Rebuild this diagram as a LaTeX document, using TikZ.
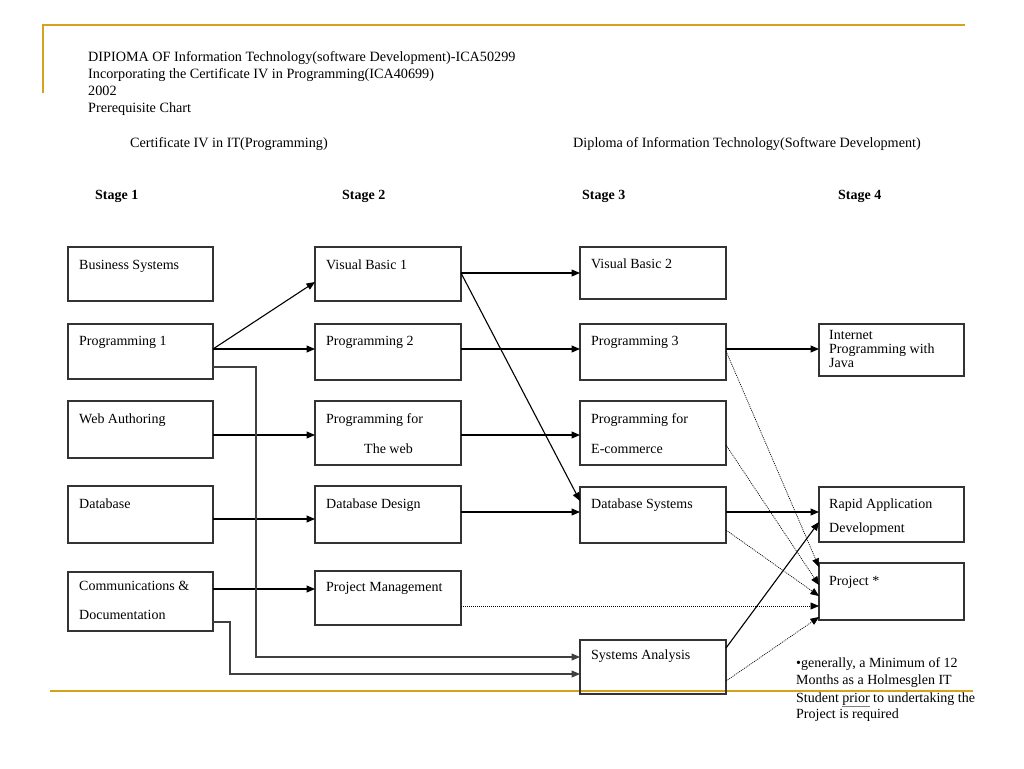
\documentclass[tikz,border=0pt]{standalone}
\usepackage{fontspec}
\setmainfont{Liberation Serif}
\usetikzlibrary{arrows.meta}
\definecolor{gold}{RGB}{214,162,30}
\begin{document}
\begin{tikzpicture}[x=1pt,y=-1pt,
  box/.style={draw=black!80,line width=1.1pt,anchor=north west,inner sep=0,outer sep=0},
  txt/.style={anchor=base west,inner sep=0,font=\fontsize{14}{17}\selectfont},
  headtxt/.style={txt,font=\fontsize{14.2}{17}\selectfont},
  stagetxt/.style={txt,font=\fontsize{14}{17}\selectfont\bfseries},
  arr/.style={line width=1.1pt,-{Triangle[length=8.5pt,width=7pt]}},
  route/.style={arr,draw=black!75},
  dots/.style={line width=0.7pt,dash pattern=on 1pt off 1pt,-{Triangle[length=8.5pt,width=7pt]}},
  goldline/.style={draw=gold,line width=2pt}]
\useasboundingbox (0,0) rectangle (1024,768);

\draw[goldline] (42,25) -- (965,25);
\draw[goldline] (43,25) -- (43,93);
\draw[goldline] (50,691) -- (973,691);

\node[headtxt] (h1) at (88,61) {DIPIOMA OF Information Technology(software Development)-ICA50299};
\node[headtxt] (h2) at (88,78) {Incorporating the Certificate IV in Programming(ICA40699)};
\node[headtxt] (h3) at (88,95) {2002};
\node[headtxt] (h4) at (88,112) {Prerequisite Chart};

\node[headtxt] (cert) at (130,147) {Certificate IV in IT(Programming)};
\node[headtxt] (dipl) at (573,147) {Diploma of Information Technology(Software Development)};

\node[stagetxt] (s1) at (95,199) {Stage 1};
\node[stagetxt] (s2) at (342,199) {Stage 2};
\node[stagetxt] (s3) at (582,199) {Stage 3};
\node[stagetxt] (s4) at (838,199) {Stage 4};

\node[box,minimum width=145,minimum height=54] (bus) at (68,247) {};
\node[box,minimum width=145,minimum height=55] (p1) at (68,324) {};
\node[box,minimum width=145,minimum height=57] (web) at (68,401) {};
\node[box,minimum width=145,minimum height=57] (db) at (68,486) {};
\node[box,minimum width=145,minimum height=59] (com) at (68,572) {};

\node[box,minimum width=146,minimum height=54] (vb1) at (315,247) {};
\node[box,minimum width=146,minimum height=56] (p2) at (315,324) {};
\node[box,minimum width=146,minimum height=64] (pweb) at (315,401) {};
\node[box,minimum width=146,minimum height=57] (dbd) at (315,486) {};
\node[box,minimum width=146,minimum height=54] (pm) at (315,571) {};

\node[box,minimum width=146,minimum height=52] (vb2) at (580,247) {};
\node[box,minimum width=146,minimum height=56] (p3) at (580,324) {};
\node[box,minimum width=146,minimum height=64] (ecom) at (580,401) {};
\node[box,minimum width=146,minimum height=56] (dbs) at (580,487) {};
\node[box,minimum width=146,minimum height=54] (sa) at (580,640) {};

\node[box,minimum width=145,minimum height=52] (java) at (819,324) {};
\node[box,minimum width=145,minimum height=55] (rad) at (819,487) {};
\node[box,minimum width=145,minimum height=57] (prj) at (819,563) {};

\node[txt] (t-bus) at (79,269) {Business Systems};
\node[txt] (t-p1) at (79,345) {Programming 1};
\node[txt] (t-web) at (79,423) {Web Authoring};
\node[txt] (t-db) at (79,508) {Database};
\node[txt] (t-com1) at (79,590) {Communications \&};
\node[txt] (t-com2) at (79,619) {Documentation};

\node[txt] (t-vb1) at (326,269) {Visual Basic 1};
\node[txt] (t-p2) at (326,345) {Programming 2};
\node[txt] (t-pweb1) at (326,423) {Programming for};
\node[txt] (t-pweb2) at (364,453) {The web};
\node[txt] (t-dbd) at (326,508) {Database Design};
\node[txt] (t-pm) at (326,591) {Project Management};

\node[txt] (t-vb2) at (591,268) {Visual Basic 2};
\node[txt] (t-p3) at (591,345) {Programming 3};
\node[txt] (t-ecom1) at (591,423) {Programming for};
\node[txt] (t-ecom2) at (591,453) {E-commerce};
\node[txt] (t-dbs) at (591,508) {Database Systems};
\node[txt] (t-sa) at (591,659) {Systems Analysis};

\node[txt] (t-java1) at (829,339) {Internet};
\node[txt] (t-java2) at (829,353) {Programming with};
\node[txt] (t-java3) at (829,367) {Java};
\node[txt] (t-rad1) at (829,508) {Rapid Application};
\node[txt] (t-rad2) at (829,532) {Development};
\node[txt] (t-prj) at (829,585) {Project *};

\node[txt] (n1) at (796,667) {\textbullet generally, a Minimum of 12};
\node[txt] (n2) at (796,684) {Months as a Holmesglen IT};
\node[txt] (n3) at (796,702) {Student \textcolor{gray}{\underline{\textcolor{black}{prior}}} to undertaking the};
\node[txt] (n4) at (796,718) {Project is required};

\draw[arr] ([yshift=2.5pt]p1.east) -- ([yshift=-8pt]vb1.west);
\draw[arr] ([yshift=2.5pt]p1.east) -- ([yshift=3pt]p2.west);
\draw[arr] ([yshift=-5.5pt]web.east) -- ([yshift=-2pt]pweb.west);
\draw[arr] ([yshift=-4.5pt]db.east) -- ([yshift=-4.5pt]dbd.west);
\draw[arr] ([yshift=12.5pt]com.east) -- ([yshift=9pt]pm.west);
\draw[route] ([yshift=-15.5pt]p1.east) -| (256,657) -- ([yshift=10pt]sa.west);
\draw[route] ([yshift=-20.5pt]com.east) -| (230,674) -- ([yshift=-7pt]sa.west);

\draw[arr] ([yshift=1pt]vb1.east) -- (vb2.west);
\draw[arr] ([yshift=1pt]vb1.east) -- ([yshift=14pt]dbs.west);
\draw[arr] ([yshift=3pt]p2.east) -- ([yshift=3pt]p3.west);
\draw[arr] ([yshift=-2pt]pweb.east) -- ([yshift=-2pt]ecom.west);
\draw[arr] ([yshift=2.5pt]dbd.east) -- ([yshift=3pt]dbs.west);

\draw[arr] ([yshift=3pt]p3.east) -- ([yshift=1pt]java.west);
\draw[arr] ([yshift=3pt]dbs.east) -- ([yshift=2.5pt]rad.west);
\draw[arr] ([yshift=19pt]sa.east) -- ([yshift=-7.5pt]rad.west);

\draw[dots] ([yshift=1pt]p3.east) -- ([yshift=24.5pt]prj.west);
\draw[dots] ([yshift=-12pt]ecom.east) -- ([yshift=6.5pt]prj.west);
\draw[dots] ([yshift=-15pt]dbs.east) -- ([yshift=-4.5pt]prj.west);
\draw[dots] ([yshift=-8pt]pm.east) -- ([yshift=-14.5pt]prj.west);
\draw[dots] ([yshift=-14pt]sa.east) -- ([yshift=-25.5pt]prj.west);
\end{tikzpicture}
\end{document}
